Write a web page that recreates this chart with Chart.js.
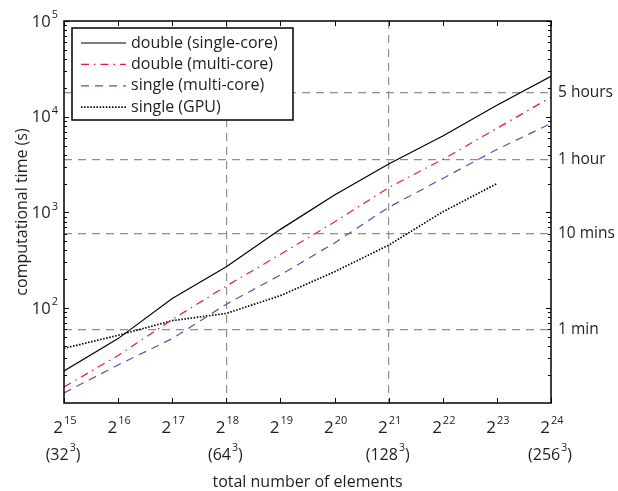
<!DOCTYPE html>
<html>
<head>
<meta charset="utf-8">
<script src="https://cdn.jsdelivr.net/npm/chart.js@4"></script>
<style>
    html, body { margin: 0; padding: 0; background: #fff; }
    #wrap { width: 618px; height: 491px; }
</style>
</head>
<body>
<div id="wrap"><canvas id="chart" width="618" height="491"></canvas></div>
<script>
// x = exponent n of 2^n (total number of elements)
const exponents = [15, 16, 17, 18, 19, 20, 21, 22, 23, 24]
const cube_labels = {15: '32', 18: '64', 21: '128', 24: '256'}

// computational time in seconds
const double_single_core = [22, 48, 126, 270, 665, 1520, 3200, 6300, 13200, 26500]
const double_multi_core  = [15, 32, 76, 170, 365, 795, 1820, 3580, 7550, 16000]
const single_multi_core  = [13, 25.5, 48, 110, 222, 480, 1130, 2265, 4550, 8500]
const single_gpu         = [38, 52, 74, 88, 135, 240, 455, 1015, 2000]

const series_names = ['double (single-core)', 'double (multi-core)', 'single (multi-core)', 'single (GPU)']

const y_decades = [100, 1000, 10000, 100000]
const time_marks = [60, 600, 3600, 18000]
const time_labels = ['1 min', '10 mins', '1 hour', '5 hours']
const marked_exponents = [18, 21]

const FONT = "'Open Sans', 'Noto Sans', sans-serif"
const TEXT = '#1e1e1e'
const GRID = '#8f8f8f'

function make_points(values) {
    return values.map((v, i) => ({x: exponents[i], y: v}))
}

function make_dataset(name, values, color, dash, width) {
    return {
        label: name,
        data: make_points(values),
        borderColor: color,
        backgroundColor: color,
        borderWidth: width,
        borderDash: dash,
        pointRadius: 0,
        tension: 0,
        fill: false
    }
}

// draws "base" with a raised small "exp", anchored by align
function draw_power(ctx, base, exp, tail, x, y, align, size, sup_size) {
    ctx.font = size + 'px ' + FONT
    const wb = ctx.measureText(base).width
    const wt = tail ? ctx.measureText(tail).width : 0
    ctx.font = sup_size + 'px ' + FONT
    const we = ctx.measureText(exp).width
    const total = wb + we + 1 + wt
    let start = x
    if (align == 'center') start = x - total / 2
    if (align == 'right') start = x - total
    ctx.textAlign = 'left'
    ctx.textBaseline = 'middle'
    ctx.fillStyle = TEXT
    ctx.font = size + 'px ' + FONT
    ctx.fillText(base, start, y)
    ctx.font = sup_size + 'px ' + FONT
    ctx.fillText(exp, start + wb + 1, y - 7)
    if (tail) {
        ctx.font = size + 'px ' + FONT
        ctx.fillText(tail, start + wb + 1 + we, y)
    }
}

const frame_plugin = {
    id: 'frame',
    afterDraw(chart) {
        const ctx = chart.ctx
        const area = chart.chartArea
        const xs = chart.scales.x
        const ys = chart.scales.y
        ctx.save()

        // legend with white background
        const lx = 72, ly = 28, lw = 221, lh = 92
        ctx.fillStyle = '#fff'
        ctx.fillRect(lx, ly, lw, lh)
        ctx.strokeStyle = '#000'
        ctx.lineWidth = 1.5
        ctx.setLineDash([])
        ctx.strokeRect(lx, ly, lw, lh)
        chart.data.datasets.forEach((ds, i) => {
            const ry = 43 + i * 21.4
            ctx.strokeStyle = ds.borderColor
            ctx.lineWidth = ds.borderWidth
            ctx.setLineDash(ds.borderDash)
            ctx.beginPath()
            ctx.moveTo(81, ry)
            ctx.lineTo(126, ry)
            ctx.stroke()
            ctx.setLineDash([])
            ctx.fillStyle = TEXT
            ctx.font = '16px ' + FONT
            ctx.textAlign = 'left'
            ctx.textBaseline = 'middle'
            ctx.fillText(ds.label, 131, ry)
        })

        // box
        ctx.setLineDash([])
        ctx.strokeStyle = '#000'
        ctx.lineWidth = 1.5
        ctx.strokeRect(area.left, area.top, area.right - area.left, area.bottom - area.top)

        // inward ticks
        ctx.lineWidth = 1
        ctx.beginPath()
        exponents.forEach(n => {
            const px = Math.round(xs.getPixelForValue(n)) + 0.5
            ctx.moveTo(px, area.bottom); ctx.lineTo(px, area.bottom - 5)
            ctx.moveTo(px, area.top); ctx.lineTo(px, area.top + 5)
        })
        for (let d = 10; d <= 100000; d *= 10) {
            for (let m = 1; m <= 9; m++) {
                const v = d * m
                if (v < ys.min || v > ys.max) continue
                const len = m == 1 ? 5 : 3
                const py = Math.round(ys.getPixelForValue(v)) + 0.5
                ctx.moveTo(area.left, py); ctx.lineTo(area.left + len, py)
                ctx.moveTo(area.right, py); ctx.lineTo(area.right - len, py)
            }
        }
        ctx.stroke()

        // y tick labels
        y_decades.forEach(v => {
            const py = ys.getPixelForValue(v)
            draw_power(ctx, '10', String(Math.round(Math.log10(v))), '', 58, py + 1, 'right', 16.5, 11)
        })

        // x tick labels
        exponents.forEach(n => {
            const px = xs.getPixelForValue(n)
            draw_power(ctx, '2', String(n), '', px + 1, 428, 'center', 17, 11)
            if (cube_labels[n]) {
                draw_power(ctx, '(' + cube_labels[n], '3', ')', px - 1, 455, 'center', 16, 10.5)
            }
        })

        // axis titles
        ctx.fillStyle = TEXT
        ctx.font = '16px ' + FONT
        ctx.textAlign = 'center'
        ctx.textBaseline = 'middle'
        ctx.fillText('total number of elements', (area.left + area.right) / 2, 482)
        ctx.save()
        ctx.translate(22, (area.top + area.bottom) / 2)
        ctx.rotate(-Math.PI / 2)
        ctx.fillText('computational time (s)', 0, 0)
        ctx.restore()

        ctx.restore()
    }
}

const datasets = [
    make_dataset(series_names[0], double_single_core, '#000000', [], 1.2),
    make_dataset(series_names[1], double_multi_core, '#e8193c', [8, 5, 1.5, 5], 1.2),
    make_dataset(series_names[2], single_multi_core, '#5a4fb0', [8, 6], 1.2),
    make_dataset(series_names[3], single_gpu, '#000000', [1.5, 1.6], 1.7)
]

const config = {
    type: 'line',
    data: {datasets: datasets},
    options: {
        responsive: false,
        animation: false,
        layout: {padding: {top: 21, left: 0, right: 0, bottom: 0}},
        plugins: {
            legend: {display: false},
            title: {display: false},
            tooltip: {enabled: false}
        },
        scales: {
            x: {
                type: 'linear',
                min: 15,
                max: 24,
                afterFit: s => { s.height = 88 },
                ticks: {display: false, stepSize: 1},
                grid: {
                    drawTicks: false,
                    lineWidth: 1.2,
                    color: c => (c.tick && marked_exponents.includes(c.tick.value)) ? GRID : 'rgba(0,0,0,0)'
                },
                border: {display: false, dash: [8, 6]}
            },
            y: {
                type: 'logarithmic',
                position: 'left',
                min: 10.2,
                max: 100000,
                afterFit: s => { s.width = 64 },
                ticks: {display: false},
                grid: {display: false},
                border: {display: false}
            },
            y2: {
                type: 'logarithmic',
                position: 'right',
                min: 10.2,
                max: 100000,
                afterFit: s => { s.width = 67 },
                afterBuildTicks: s => { s.ticks = time_marks.map(v => ({value: v})) },
                ticks: {
                    display: true,
                    padding: 7,
                    color: TEXT,
                    font: {family: FONT, size: 15.5},
                    callback: (v, i) => time_labels[i]
                },
                grid: {drawTicks: false, lineWidth: 1.2, color: GRID},
                border: {display: false, dash: [8, 6]}
            }
        }
    },
    plugins: [frame_plugin]
}

new Chart(document.getElementById('chart'), config)
</script>
</body>
</html>
